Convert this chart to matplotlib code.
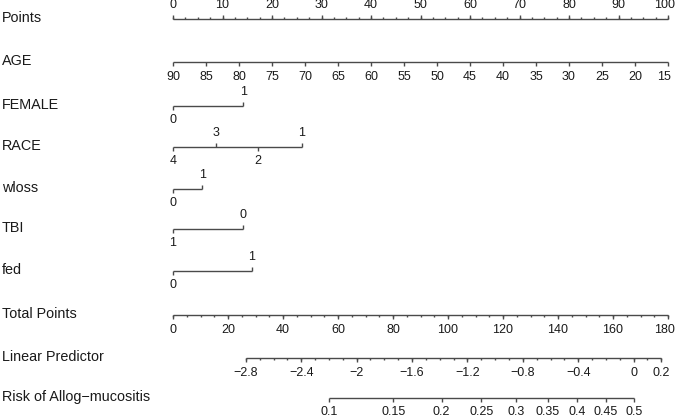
import numpy as np
import matplotlib
matplotlib.use('Agg')
import matplotlib.pyplot as plt

plt.rcParams['font.family'] = ['Liberation Sans', 'DejaVu Sans']

# points scale (0-100)
points_major = np.arange(0, 101, 10)
points_minor = np.arange(0, 100.1, 2.5)

# predictor values and their points
age_vals = np.arange(90, 14, -5)
age_pts = (90 - age_vals) * 100 / 75.0
female_vals = ['0', '1']
female_pts = [0, 14.2]
race_vals = ['4', '3', '2', '1']
race_pts = [0, 8.7, 17.2, 26.0]
wloss_vals = ['0', '1']
wloss_pts = [0, 5.9]
tbi_vals = ['1', '0']
tbi_pts = [0, 14.1]
fed_vals = ['0', '1']
fed_pts = [0, 15.9]

# total points axis
total_major = np.arange(0, 181, 20)
total_minor = np.arange(0, 180.1, 5)
total_max = 180.0

# linear predictor: lp = lp0 + lp_slope * total points
lp0 = -3.326
lp_slope = 0.019856
lp_major = [-2.8, -2.4, -2.0, -1.6, -1.2, -0.8, -0.4, 0.0, 0.2]
lp_labels = ['\u22122.8', '\u22122.4', '\u22122', '\u22121.6', '\u22121.2',
             '\u22120.8', '\u22120.4', '0', '0.2']
lp_minor = np.round(np.arange(-2.8, 0.21, 0.1), 2)

# risk
risk_vals = [0.1, 0.15, 0.2, 0.25, 0.3, 0.35, 0.4, 0.45, 0.5]
risk_labels = ['0.1', '0.15', '0.2', '0.25', '0.3', '0.35', '0.4', '0.45', '0.5']

row_labels = ['Points', 'AGE', 'FEMALE', 'RACE', 'wloss', 'TBI', 'fed',
              'Total Points', 'Linear Predictor', 'Risk of Allog\u2212mucositis']
row_y = [19, 62, 106, 147, 189, 229, 271, 315, 358, 398]

line_col = '#4a4a4a'
text_col = '#1a1a1a'
lab_fs = 10.4
tick_fs = 9.0
major_len = 4
minor_len = 2

W, H = 677, 419
left_px, right_px = 173, 668
scale = (right_px - left_px) / 100.0


def tot_to_x(tp):
    return np.asarray(tp) * 100.0 / total_max


def lp_to_x(lp):
    return tot_to_x((np.asarray(lp) - lp0) / lp_slope)


fig = plt.figure(figsize=(W / 100, H / 100), dpi=100)
ax = fig.add_axes([0, 0, 1, 1])
x_right = (W - left_px) / scale
ax.set_xlim(-left_px / scale, x_right)
ax.set_ylim(H, 0)
ax.axis('off')


def hline(x, y):
    ax.plot([min(x), max(x)], [y, y], color=line_col, lw=1, solid_capstyle='butt')


def ticks(x, y, length, up):
    for xi in np.atleast_1d(x):
        y2 = y - length if up else y + length
        ax.plot([xi, xi], [y, y2], color=line_col, lw=1, solid_capstyle='butt')


def labels(x, txt, y, up, off=13):
    for xi, t in zip(np.atleast_1d(x), txt):
        yy = y - off if up else y + off
        # keep labels at the right edge inside the picture
        if xi > x_right - 3.0:
            xi = xi - 3.5 / scale
        ax.text(xi, yy, t, ha='center', va='center', fontsize=tick_fs, color=text_col)


# row labels
for lab, y in zip(row_labels, row_y):
    ax.text(-left_px / scale + 2 / scale, y - 1, lab, ha='left', va='center',
            fontsize=lab_fs, color=text_col)

# Points
y = row_y[0]
hline(points_major, y)
ticks(points_minor, y, minor_len, True)
ticks(points_major, y, major_len, True)
labels(points_major, [str(v) for v in points_major], y, True, 14)

# AGE
y = row_y[1]
hline(age_pts, y)
ticks(age_pts, y, major_len, False)
labels(age_pts, [str(v) for v in age_vals], y, False, 15)

# categorical rows: labels alternate below / above
for vals, pts, y in [(female_vals, female_pts, row_y[2]),
                     (race_vals, race_pts, row_y[3]),
                     (wloss_vals, wloss_pts, row_y[4]),
                     (tbi_vals, tbi_pts, row_y[5]),
                     (fed_vals, fed_pts, row_y[6])]:
    hline(pts, y)
    for i, (v, p) in enumerate(zip(vals, pts)):
        up = i % 2 == 1
        ticks(p, y, major_len, up)
        labels([p], [v], y, up, 14)

# Total Points
y = row_y[7]
hline(tot_to_x(total_major), y)
ticks(tot_to_x(total_minor), y, minor_len, False)
ticks(tot_to_x(total_major), y, major_len, False)
labels(tot_to_x(total_major), [str(v) for v in total_major], y, False, 15)

# Linear Predictor
y = row_y[8]
hline(lp_to_x(lp_minor), y)
ticks(lp_to_x(lp_minor), y, minor_len, False)
ticks(lp_to_x(lp_major), y, major_len, False)
labels(lp_to_x(lp_major), lp_labels, y, False, 15)

# Risk
y = row_y[9]
risk_lp = np.log(np.array(risk_vals) / (1 - np.array(risk_vals)))
hline(lp_to_x(risk_lp), y)
ticks(lp_to_x(risk_lp), y, major_len, False)
labels(lp_to_x(risk_lp), risk_labels, y, False, 14)

fig.savefig('out.png', dpi=100)
